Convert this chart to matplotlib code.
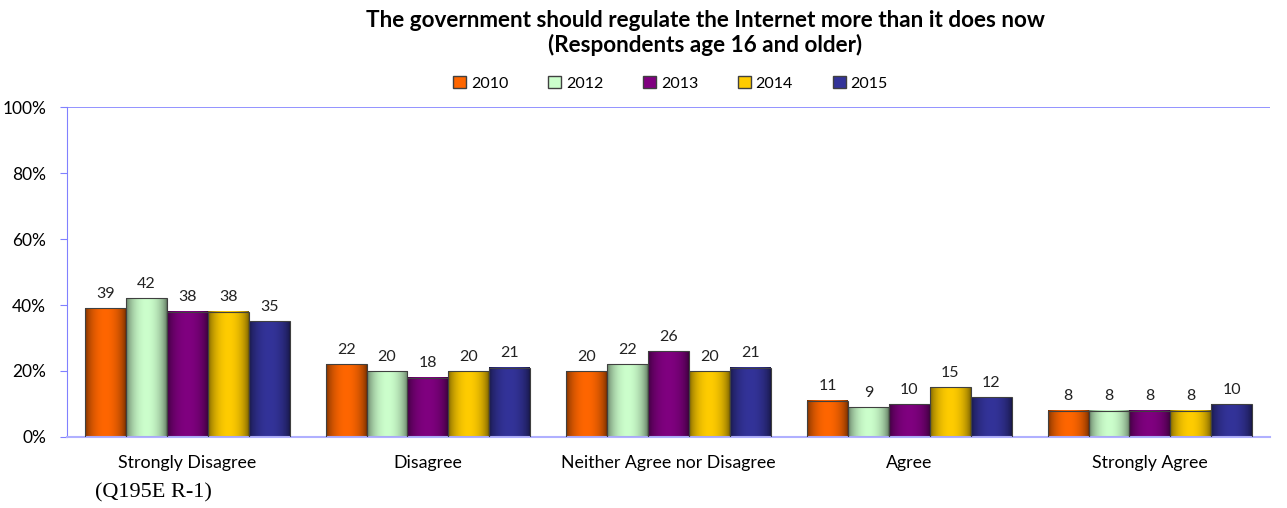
import matplotlib.pyplot as plt
import matplotlib.colors as mcolors
import numpy as np
from matplotlib.patches import Patch

plt.rcParams['font.family'] = ['Lato', 'DejaVu Sans']

categories = ['Strongly Disagree', 'Disagree', 'Neither Agree nor Disagree', 'Agree', 'Strongly Agree']
years = ['2010', '2012', '2013', '2014', '2015']
v2010 = [39, 22, 20, 11, 8]
v2012 = [42, 20, 22, 9, 8]
v2013 = [38, 18, 26, 10, 8]
v2014 = [38, 20, 20, 15, 8]
v2015 = [35, 21, 21, 12, 10]
series = [v2010, v2012, v2013, v2014, v2015]
colors = ['#FF6600', '#CCFFCC', '#800080', '#FFCC00', '#333399']

fig = plt.figure(figsize=(12.87, 5.08), dpi=100)
ax = fig.add_axes([0.052, 0.14, 0.935, 0.649])

barWidth = 0.17
x = np.arange(len(categories))


def shade(color):
    # horizontal gradient: dark at edges, light in the middle
    base = np.array(mcolors.to_rgb(color))
    t = np.linspace(0, 1, 64)
    f = np.sin(np.pi * t) ** 0.6
    f = 0.45 + 0.55 * f
    rgb = base[None, :] * f[:, None]
    return rgb[None, :, :]


for i, vals in enumerate(series):
    pos = x - 2 * barWidth + i * barWidth
    img = shade(colors[i])
    for p, v in zip(pos, vals):
        ax.imshow(img, extent=(p - barWidth / 2, p + barWidth / 2, 0, v),
                  aspect='auto', zorder=2, interpolation='bilinear')
        ax.bar(p, v, width=barWidth, facecolor='none', edgecolor='#404040',
               linewidth=0.8, zorder=3)
        ax.text(p, v + 2.2, str(v), ha='center', va='bottom', fontsize=11.5, color='#222222')

ax.set_xlim(-0.5, len(categories) - 0.5)
ax.set_ylim(0, 100)
ax.set_yticks(range(0, 101, 20))
ax.set_yticklabels([f'{t}%' for t in range(0, 101, 20)], fontsize=12.5)
ax.set_xticks(x)
ax.set_xticklabels(categories, fontsize=12.8)
ax.tick_params(axis='x', length=0, pad=13)
ax.tick_params(axis='y', length=5, color='#8080FF', pad=10)
ax.axhline(100, color='#8080FF', linewidth=1.2, zorder=1)
for s in ['top', 'right']:
    ax.spines[s].set_visible(False)
ax.spines['left'].set_color('#8080FF')
ax.spines['bottom'].set_color('#B0B0FF')
ax.spines['bottom'].set_linewidth(1.5)

fig.text(0.548, 0.935, 'The government should regulate the Internet more than it does now\n(Respondents age 16 and older)',
         ha='center', va='center', fontsize=16.2, fontweight='bold', linespacing=1.2)

handles = [Patch(facecolor=c, edgecolor='#404040', label=y) for c, y in zip(colors, years)]
fig.legend(handles=handles, loc='center', bbox_to_anchor=(0.521, 0.836), ncol=5, frameon=False,
           fontsize=11.5, handlelength=0.8, handleheight=0.8, handletextpad=0.3, columnspacing=2.5)

fig.text(0.074, 0.02, '(Q195E R-1)', fontsize=16, family='Liberation Serif')

fig.savefig('out.png', dpi=100)
